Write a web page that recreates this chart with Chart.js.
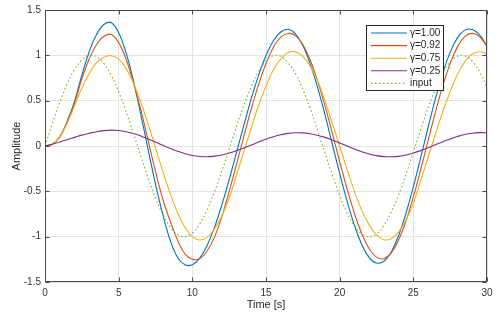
<!DOCTYPE html>
<html lang="en">
<head>
<meta charset="UTF-8">
<title>Amplitude vs Time</title>
<script src="https://cdn.jsdelivr.net/npm/chart.js"></script>
<style>
  html, body { margin: 0; padding: 0; background: #fff; }
  #chart { display: block; }
</style>
</head>
<body>
<canvas id="chart" width="502" height="317"></canvas>
<script>
  // time axis in seconds, one sample every 0.5 s
  const time = [0, 0.5, 1, 1.5, 2, 2.5, 3, 3.5, 4, 4.5, 5, 5.5, 6, 6.5, 7, 7.5, 8, 8.5, 9, 9.5,
    10, 10.5, 11, 11.5, 12, 12.5, 13, 13.5, 14, 14.5, 15, 15.5, 16, 16.5, 17, 17.5, 18, 18.5, 19, 19.5,
    20, 20.5, 21, 21.5, 22, 22.5, 23, 23.5, 24, 24.5, 25, 25.5, 26, 26.5, 27, 27.5, 28, 28.5, 29, 29.5, 30];

  // responses
  const gamma100 = [0, 0.02, 0.10, 0.27, 0.49, 0.78, 1.04, 1.23, 1.34, 1.36, 1.25, 1.03, 0.72, 0.35, -0.04, -0.42, -0.76, -1.04, -1.23, -1.31,
    -1.31, -1.237, -1.097, -0.899, -0.653, -0.371, -0.071, 0.231, 0.522, 0.781, 0.998, 1.161, 1.258, 1.287, 1.237, 1.108, 0.906, 0.647, 0.346, 0.022,
    -0.303, -0.607, -0.873, -1.086, -1.231, -1.291, -1.271, -1.168, -0.987, -0.743, -0.450, -0.127, 0.204, 0.522, 0.804, 1.033, 1.195, 1.278, 1.285, 1.225, 1.10];
  const gamma092 = [0, 0.02, 0.10, 0.26, 0.47, 0.74, 0.96, 1.12, 1.21, 1.23, 1.14, 0.96, 0.70, 0.40, 0.06, -0.28, -0.59, -0.83, -1.04, -1.19,
    -1.25, -1.242, -1.158, -1.005, -0.78, -0.50, -0.20, 0.11, 0.41, 0.68, 0.91, 1.09, 1.20, 1.241, 1.218, 1.119, 0.948, 0.718, 0.445, 0.142,
    -0.170, -0.471, -0.742, -0.967, -1.133, -1.226, -1.243, -1.179, -1.037, -0.827, -0.562, -0.259, 0.060, 0.374, 0.666, 0.909, 1.096, 1.209, 1.242, 1.205, 1.10];
  const gamma075 = [0, 0.02, 0.10, 0.25, 0.44, 0.64, 0.80, 0.92, 0.98, 0.996, 0.959, 0.856, 0.695, 0.484, 0.241, -0.020, -0.282, -0.525, -0.736, -0.897,
    -1.000, -1.037, -1.008, -0.917, -0.770, -0.576, -0.32, -0.06, 0.20, 0.45, 0.66, 0.84, 0.96, 1.03, 1.038, 0.989, 0.881, 0.720, 0.50, 0.25,
    0.00, -0.26, -0.50, -0.71, -0.87, -0.98, -1.033, -1.022, -0.947, -0.816, -0.635, -0.38, -0.13, 0.13, 0.38, 0.60, 0.79, 0.93, 1.015, 1.04, 1.02];
  const gamma025 = [0, 0.02, 0.045, 0.07, 0.095, 0.12, 0.14, 0.158, 0.17, 0.175, 0.171, 0.158, 0.137, 0.110, 0.078, 0.043, 0.007, -0.028, -0.059, -0.085,
    -0.104, -0.115, -0.118, -0.112, -0.099, -0.078, -0.052, -0.021, 0.011, 0.044, 0.075, 0.102, 0.124, 0.139, 0.146, 0.145, 0.136, 0.119, 0.095, 0.066,
    0.034, 0.000, -0.033, -0.063, -0.088, -0.106, -0.117, -0.119, -0.114, -0.100, -0.078, -0.051, -0.020, 0.014, 0.047, 0.078, 0.105, 0.127, 0.141, 0.147, 0.146];
  const input = [0, 0.247, 0.479, 0.682, 0.841, 0.949, 0.997, 0.984, 0.909, 0.778, 0.598, 0.381, 0.141, -0.108, -0.351, -0.572, -0.757, -0.895, -0.978, -1.000,
    -0.959, -0.860, -0.706, -0.510, -0.279, -0.033, 0.215, 0.450, 0.657, 0.823, 0.938, 0.996, 0.989, 0.916, 0.798, 0.625, 0.412, 0.174, -0.075, -0.319,
    -0.544, -0.737, -0.880, -0.969, -1.000, -0.971, -0.875, -0.728, -0.537, -0.313, -0.066, 0.182, 0.420, 0.632, 0.804, 0.926, 0.991, 0.994, 0.935, 0.817, 0.650];

  const seriesNames = ['γ=1.00', 'γ=0.92', 'γ=0.75', 'γ=0.25', 'input'];
  const xTicks = [0, 5, 10, 15, 20, 25, 30];
  const yTicks = [-1.5, -1, -0.5, 0, 0.5, 1, 1.5];

  const colors = ['#0072BD', '#D95319', '#EDB120', '#7E2F8E', '#77AC30'];
  const dotted = [1.5, 2.5];
  const font = 'Liberation Sans, Arial, sans-serif';

  function toPoints(values) {
    return values.map((v, i) => ({ x: time[i], y: v }));
  }

  const allSeries = [gamma100, gamma092, gamma075, gamma025, input];
  const datasets = allSeries.map((vals, i) => ({
    label: seriesNames[i],
    data: toPoints(vals),
    borderColor: colors[i],
    borderWidth: 1.1,
    borderDash: i === 4 ? dotted : [],
    pointRadius: 0,
    tension: 0.4,
    fill: false,
    order: 5 - i
  }));

  // box around the axes, inward ticks and the legend box (MATLAB look)
  const matlabFrame = {
    id: 'matlabFrame',
    afterDraw(chart) {
      const { ctx, chartArea: a, scales: { x, y } } = chart;
      const L = Math.round(a.left) + 0.5, R = Math.round(a.right) - 0.5;
      const T = Math.round(a.top) + 0.5, B = Math.round(a.bottom) - 0.5;
      ctx.save();
      ctx.strokeStyle = '#4a4a4a';
      ctx.lineWidth = 1;
      ctx.strokeRect(L, T, R - L, B - T);
      ctx.beginPath();
      xTicks.forEach(v => {
        const px = Math.round(x.getPixelForValue(v)) + 0.5;
        ctx.moveTo(px, B); ctx.lineTo(px, B - 4);
        ctx.moveTo(px, T); ctx.lineTo(px, T + 4);
      });
      yTicks.forEach(v => {
        const py = Math.round(y.getPixelForValue(v)) + 0.5;
        ctx.moveTo(L, py); ctx.lineTo(L + 4, py);
        ctx.moveTo(R, py); ctx.lineTo(R - 4, py);
      });
      ctx.stroke();

      // legend
      const lx = 366.5, ly = 25.5, lw = 77, lh = 65;
      ctx.fillStyle = '#fff';
      ctx.fillRect(lx, ly, lw, lh);
      ctx.strokeStyle = '#262626';
      ctx.strokeRect(lx, ly, lw, lh);
      ctx.font = '10px ' + font;
      ctx.textBaseline = 'middle';
      ctx.textAlign = 'left';
      seriesNames.forEach((name, i) => {
        const ry = 33 + i * 12.6;
        ctx.beginPath();
        ctx.strokeStyle = colors[i];
        ctx.lineWidth = 1.1;
        ctx.setLineDash(i === 4 ? dotted : []);
        ctx.moveTo(371, ry);
        ctx.lineTo(407, ry);
        ctx.stroke();
        ctx.setLineDash([]);
        ctx.fillStyle = '#262626';
        ctx.fillText(name, 410, ry);
      });
      ctx.restore();
    }
  };

  new Chart(document.getElementById('chart'), {
    type: 'line',
    data: { datasets },
    options: {
      responsive: false,
      animation: false,
      devicePixelRatio: 1,
      layout: { padding: { top: 10, right: 15, left: 0, bottom: 0 } },
      plugins: { legend: { display: false }, tooltip: { enabled: false } },
      scales: {
        x: {
          type: 'linear',
          min: 0, max: 30,
          afterBuildTicks: s => { s.ticks = xTicks.map(v => ({ value: v })); },
          afterFit: s => { s.height = 35; },
          grid: { color: '#e3e3e3', drawTicks: false },
          border: { display: false },
          ticks: { padding: 5, color: '#333', font: { family: font, size: 10 },
            callback: v => String(v) },
          title: { display: true, text: 'Time [s]', color: '#262626',
            font: { family: font, size: 11 }, padding: { top: 0, bottom: 5 } }
        },
        y: {
          min: -1.5, max: 1.5,
          afterBuildTicks: s => { s.ticks = yTicks.map(v => ({ value: v })); },
          afterFit: s => { s.width = 45; },
          grid: { color: '#e3e3e3', drawTicks: false },
          border: { display: false },
          ticks: { padding: 4, color: '#333', font: { family: font, size: 10 },
            callback: v => String(v) },
          title: { display: true, text: 'Amplitude', color: '#262626',
            font: { family: font, size: 11 }, padding: { top: 10, bottom: 0 } }
        }
      }
    },
    plugins: [matlabFrame]
  });
</script>
</body>
</html>
